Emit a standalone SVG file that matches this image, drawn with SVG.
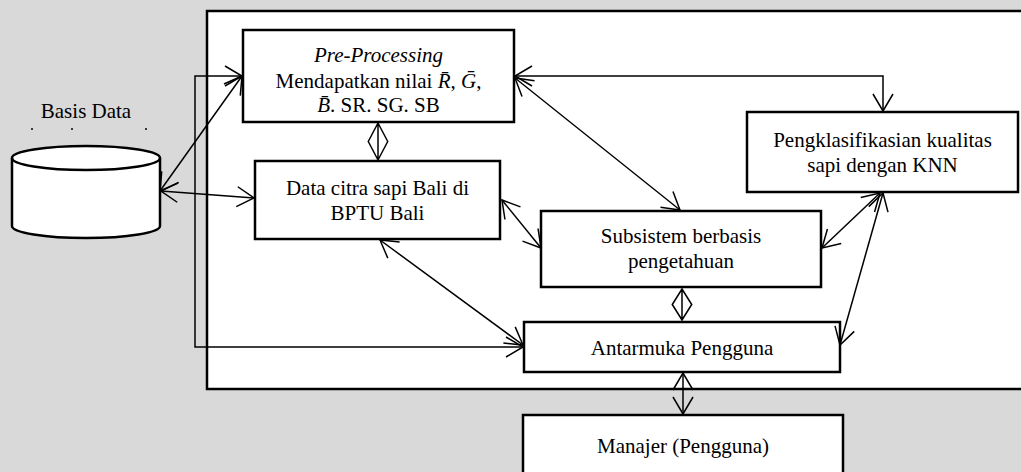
<svg xmlns="http://www.w3.org/2000/svg" width="1021" height="472" viewBox="0 0 1021 472">
  <style>
    .box { fill: #ffffff; stroke: #000000; stroke-width: 2.5; }
    .frame { fill: #ffffff; stroke: #000000; stroke-width: 2.5; }
    .lbl { font-size: 21px; fill: #000000; text-anchor: middle; }
    .it { font-style: italic; }
    .conn { fill: none; stroke: #000000; stroke-width: 1.5; }
    .arr { marker-start: url(#head); marker-end: url(#head); }
  </style>
  <defs>
    <marker id="head" markerUnits="userSpaceOnUse" viewBox="-20 -12 24 24" markerWidth="24" markerHeight="24" refX="0" refY="0" orient="auto-start-reverse" overflow="visible">
      <path d="M-17,-10 L0,0 L-17,10" fill="none" stroke="#000000" stroke-width="1.5"/>
    </marker>
  </defs>

  <!-- page background -->
  <rect x="0" y="0" width="1021" height="472" fill="#d9d9d9"/>

  <!-- system boundary (runs past the right edge) -->
  <rect class="frame" x="207" y="11" width="830" height="378"/>

  <g font-family="'Liberation Serif', 'Times New Roman', Times, 'DejaVu Serif', serif">
  <!-- database -->
  <g id="basis-data">
    <text class="lbl" x="86" y="118">Basis Data</text>
    <circle cx="32" cy="129" r="1" fill="#000"/>
    <circle cx="72" cy="129" r="1" fill="#000"/>
    <circle cx="146" cy="129" r="1" fill="#000"/>
    <path d="M12,158 L12,226 A74,12 0 0 0 160,226 L160,158 A74,12 0 0 0 12,158 Z" fill="#ffffff" stroke="#000" stroke-width="2.5"/>
    <path d="M12,158 A74,12 0 0 0 160,158" fill="none" stroke="#000" stroke-width="2.5"/>
  </g>

  <g id="pre-processing">
    <rect class="box" x="243" y="30" width="271" height="92"/>
    <text class="lbl it" x="378.5" y="62">Pre-Processing</text>
    <text class="lbl" x="378.5" y="88">Mendapatkan nilai <tspan class="it">R̄</tspan>, <tspan class="it">Ḡ</tspan>,</text>
    <text class="lbl" x="378.5" y="112"><tspan class="it">B̄</tspan>. SR. SG. SB</text>
  </g>

  <g id="data-citra">
    <rect class="box" x="255" y="161" width="245" height="78"/>
    <text class="lbl" x="377.5" y="195">Data citra sapi Bali di</text>
    <text class="lbl" x="377.5" y="220">BPTU Bali</text>
  </g>

  <g id="klasifikasi">
    <rect class="box" x="747" y="112" width="271" height="80"/>
    <text class="lbl" x="882.5" y="147">Pengklasifikasian kualitas</text>
    <text class="lbl" x="882.5" y="172">sapi dengan KNN</text>
  </g>

  <g id="subsistem">
    <rect class="box" x="541" y="211" width="280" height="76"/>
    <text class="lbl" x="681" y="243">Subsistem berbasis</text>
    <text class="lbl" x="681" y="268">pengetahuan</text>
  </g>

  <g id="antarmuka">
    <rect class="box" x="524" y="322" width="316" height="50"/>
    <text class="lbl" x="682" y="355">Antarmuka Pengguna</text>
  </g>

  <g id="manajer">
    <rect class="box" x="523" y="415" width="320" height="70"/>
    <text class="lbl" x="683" y="453">Manajer (Pengguna)</text>
  </g>
  </g>

  <g id="connectors">
    <!-- database loop to pre-processing and user interface -->
    <path class="conn arr" d="M242,76 L195,76 L195,347 L523,347"/>
    <!-- database links -->
    <path class="conn arr" d="M160,191 L242,76"/>
    <path class="conn arr" d="M161,191 L254,198"/>
    <!-- pre-processing to data citra -->
    <path class="conn" d="M378,123 L378,160 M368,142 L378,123 L388,142 M368,141 L378,160 L388,141"/>
    <!-- pre-processing to classification -->
    <path class="conn arr" d="M515,76 L883,76 L883,111"/>
    <!-- pre-processing to subsistem -->
    <path class="conn arr" d="M515,78 L680,210"/>
    <!-- data citra to subsistem -->
    <path class="conn arr" d="M502,200 L541,248"/>
    <!-- data citra to user interface -->
    <path class="conn arr" d="M380,240 L523,345"/>
    <!-- classification to subsistem and user interface -->
    <path class="conn arr" d="M880,193 L822,248"/>
    <path class="conn arr" d="M883,193 L840,345"/>
    <!-- subsistem to user interface -->
    <path class="conn" d="M682,289 L682,320 M672,305 L682,289 L692,305 M672,304 L682,320 L692,304"/>
    <!-- user interface to manager -->
    <path class="conn arr" d="M683,373 L683,414"/>
  </g>
</svg>
